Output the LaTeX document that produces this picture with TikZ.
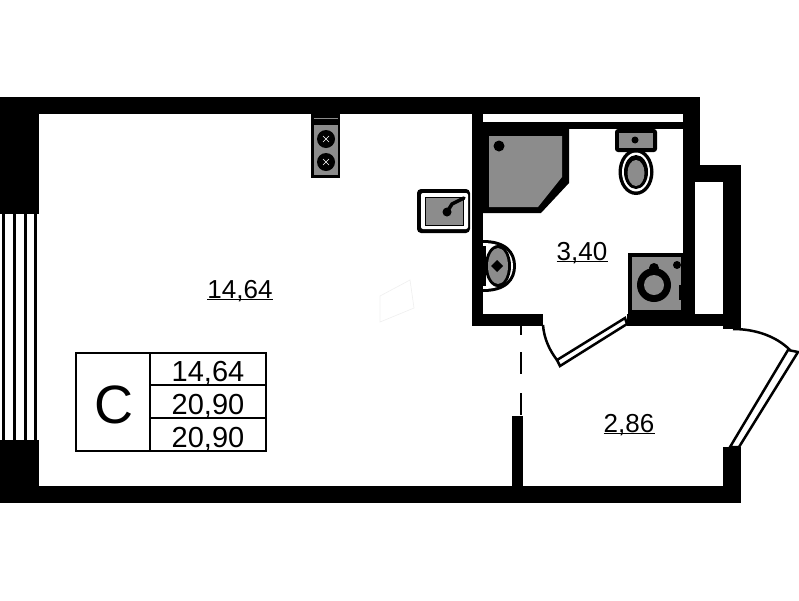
\documentclass[tikz,border=0pt]{standalone}
\usepackage{fontspec}
\setmainfont{Liberation Sans}
\usetikzlibrary{shapes.geometric}

\begin{document}
\begin{tikzpicture}[x=1pt,y=-1pt]
    \tikzstyle{wall}=[fill=black, draw=none]
    \tikzstyle{fixture}=[fill=black!45, draw=black, line width=1pt]
    \tikzstyle{area}=[inner sep=0pt, anchor=base, font=\fontsize{26}{26}\selectfont]
    \tikzstyle{cell}=[inner sep=0pt, anchor=base, font=\fontsize{29}{29}\selectfont]
    \tikzstyle{frame}=[fill=white, draw=black, line width=2.5pt]
    \useasboundingbox (0,0) rectangle (799,600);

    \foreach \xa/\ya/\xb/\yb in {0/97/700/114, 0/97/39/214, 0/440/39/503, 0/486/741/503,
        723/447/741/503, 512/416/523/503, 472/97/483/326, 472/314/543/326, 627/314/741/326,
        723/165/741/329, 683/97/700/165, 683/97/695/326, 683/165/741/182, 483/122/683/129}
        \fill[wall] (\xa,\ya) rectangle (\xb,\yb);

    \foreach \xa in {3.5,14,25,35}
        \draw[line width=3pt] (\xa,214) -- (\xa,440);

    % kitchen
    \fill[wall] (311,114) rectangle (340,178);
    \fill[black!45] (314,125) rectangle (338,175);
    \draw[black!45, line width=1pt] (314,118) -- (338,118);
    \foreach \ya in {139,162}{
        \fill (326,\ya) circle (9);
        \draw[white, line width=.6pt] (323,\ya-3) -- (329,\ya+3) (329,\ya-3) -- (323,\ya+3);
    }
    \fill[black, rounded corners=4pt] (417,189) rectangle (470,233);
    \fill[white, rounded corners=2pt] (421,193) rectangle (468,229);
    \draw[fixture] (425,197) rectangle (463,225);
    \fill (447,212) circle (4.5);
    \draw[line width=3.5pt, line cap=round] (447,212) -- (452,204) -- (464,198);

    % shower
    \fill[wall] (483,129) -- (569,129) -- (569,183) -- (541,213) -- (483,213) -- cycle;
    \fill[black!45] (489,136) -- (562,136) -- (562,177) -- (538,207) -- (489,207) -- cycle;
    \fill (499,146) circle (5.5);

    % toilet
    \fill[black, rounded corners=3pt] (615,129) rectangle (657,152);
    \fill[black!45] (619,133) rectangle (653,148);
    \fill (635,140) circle (3.5);
    \fill (636,172) ellipse (17.5 and 23);
    \fill[white] (636,172) ellipse (14 and 19.5);
    \fill (636,172) ellipse (12 and 17);
    \fill[black!45] (636,173) ellipse (8.5 and 13);

    % basin
    \fill (483,240) .. controls (507,240) and (516,252) .. (516,266)
        .. controls (516,280) and (507,292) .. (483,292) -- cycle;
    \fill[white] (483,243) .. controls (505,243) and (513,254) .. (513,266)
        .. controls (513,278) and (505,289) .. (483,289) -- cycle;
    \fill (498,266) ellipse (13 and 21);
    \fill[black!45] (498,266) ellipse (10 and 18);
    \fill (497,260) -- (503,266) -- (497,272) -- (491,266) -- cycle;
    \fill (483,246) rectangle (486,286);

    % washer
    \fill[wall] (628,253) rectangle (683,314);
    \fill[black!45] (632,257) rectangle (681,310);
    \fill (654,268) circle (5);
    \fill (654,285) circle (17);
    \fill[black!45] (654,285) circle (10);
    \fill (677,265) circle (4);
    \fill (679,285) rectangle (681,300);

    % doors and windows
    \draw[frame] (625,318) -- (627,324) -- (560,366) -- (557,360) -- cycle;
    \draw[line width=2.5pt] (543,325) .. controls (544,339) and (550,351) .. (557,360);
    \draw[frame] (788,350) -- (798,352) -- (739,447) -- (730,447) -- cycle;
    \draw[line width=2.5pt] (733,329) .. controls (755,329) and (776,336) .. (790,350);
    \draw[line width=2pt] (521,325) -- (521,335) (521,352) -- (521,374) (521,393) -- (521,415);
    \draw[black!6, line width=.7pt] (380,296) -- (410,280) -- (414,308) -- (380,322) -- cycle;

    % labels
    \node[area] (studio) at (240,298) {14,64};
    \node[area] (bath) at (582,260) {3,40};
    \node[area] (hall) at (629,432) {2,86};
    \foreach \n in {studio,bath,hall}
        \draw[line width=1.8pt] ([yshift=-1.5pt]\n.base west) -- ([yshift=-1.5pt]\n.base east);

    \draw[line width=2.5pt] (76,353) rectangle (266,451);
    \draw[line width=2.5pt] (150,353) -- (150,451) (150,385) -- (266,385) (150,418) -- (266,418);
    \node[inner sep=0pt, anchor=base, font=\fontsize{54}{54}\selectfont] (type) at (114,423) {C};
    \node[cell] (living) at (208,381) {14,64};
    \node[cell] (total) at (208,414) {20,90};
    \node[cell] (full) at (208,447) {20,90};
\end{tikzpicture}
\end{document}
